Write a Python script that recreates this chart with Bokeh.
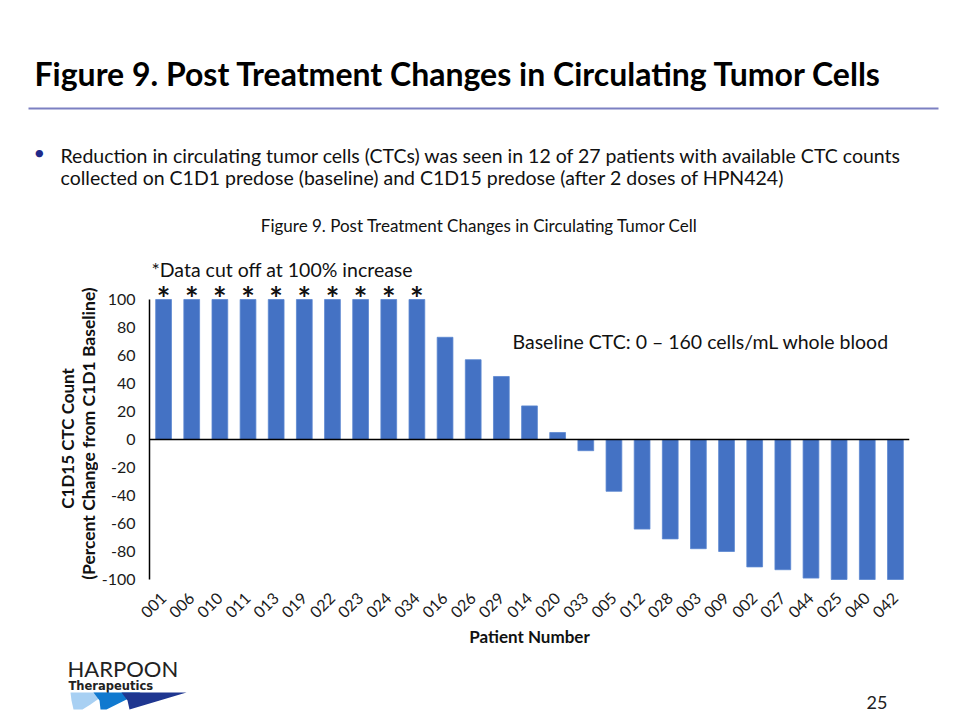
import math
from bokeh.plotting import figure
from bokeh.layouts import column, row
from bokeh.models import (Range1d, FactorRange, FixedTicker, Span, Label,
                          PolyAnnotation, ColumnDataSource)
from bokeh.core.properties import value
from bokeh.embed import file_html
from bokeh.resources import INLINE

# ---------------- data ----------------
patients = ["001", "006", "010", "011", "013", "019", "022", "023", "024", "034",
            "016", "026", "029", "014", "020", "033", "005", "012", "028", "003",
            "009", "002", "027", "044", "025", "040", "042"]
pct_change = [100, 100, 100, 100, 100, 100, 100, 100, 100, 100,
              73, 57, 45, 24, 5, -8, -37, -64, -71, -78,
              -80, -91, -93, -99, -100, -100, -100]
y_ticks = [-100, -80, -60, -40, -20, 0, 20, 40, 60, 80, 100]
cap_value = 100

title_text = "Figure 9. Post Treatment Changes in Circulating Tumor Cells"
bullet_lines = ["Reduction in circulating tumor cells (CTCs) was seen in 12 of 27 patients with available CTC counts",
                "collected on C1D1 predose (baseline) and C1D15 predose (after 2 doses of HPN424)"]
subtitle_text = "Figure 9. Post Treatment Changes in Circulating Tumor Cell"
cut_note = "*Data cut off at 100% increase"
baseline_note = "Baseline CTC: 0 \u2013 160 cells/mL whole blood"
y_label_lines = ["C1D15 CTC Count", "(Percent Change from C1D1 Baseline)"]
x_label = "Patient Number"
page_number = "25"

FONT = "Lato"
BAR = "#4472C4"
W = 950
TOP_H = 250      # header band: page y 0..250
MID_H = 405      # chart band: page y 250..655
BOT_H = 61       # footer band: page y 655..716
LEFT_W = 98      # y-label column inside the chart band
FR_L, FR_R, FR_T, FR_B = 148, 909, 256, 582   # chart frame on the page
ROT_SHIFT = 32   # compensation for rotated label anchoring


def blank(width, height, y0):
    """figure whose frame fills it, with page-pixel coordinates (y down)."""
    f = figure(width=width, height=height, output_backend="svg", toolbar_location=None,
               x_range=Range1d(0, width), y_range=Range1d(y0 + height, y0),
               x_axis_location=None, y_axis_location=None, min_border=0)
    f.outline_line_color = None
    f.xgrid.visible = False
    f.ygrid.visible = False
    f.border_fill_color = "white"
    return f


def lab(f, text, px, py, size, align="left", baseline="middle", bold=False,
        color="#111111", angle=0.0, font=FONT):
    f.add_layout(Label(x=px, y=py, text=text, text_font=font, text_font_size=size,
                       text_align=align, text_baseline=baseline,
                       text_font_style="bold" if bold else "normal",
                       text_color=color, angle=angle))


def poly(f, pts, color):
    f.add_layout(PolyAnnotation(xs=[x for x, _ in pts], ys=[y for _, y in pts],
                                fill_color=color, fill_alpha=1.0, line_color=None))


# ---------------- header ----------------
head = blank(W, TOP_H, 0)
lab(head, title_text, 34, 73, "32px", bold=True, color="#000000")
poly(head, [(28, 107), (938, 107), (938, 109), (28, 109)], "#7C80C2")
lab(head, "\u2022", 33, 151, "20px", color="#1F2A8A")
lab(head, bullet_lines[0], 60, 155, "19.5px")
lab(head, bullet_lines[1], 60, 177, "19.5px")
lab(head, subtitle_text, 479, 225, "17px", align="center")

# ---------------- y-label column ----------------
left = blank(LEFT_W, MID_H, TOP_H)
lab(left, y_label_lines[0], 67, 444 + ROT_SHIFT, "17px", align="center", bold=True,
    angle=math.pi / 2)
lab(left, y_label_lines[1], 88, 438 + ROT_SHIFT, "17.5px", align="center", bold=True,
    angle=math.pi / 2)

# ---------------- chart ----------------
p = figure(width=W - LEFT_W, height=MID_H, output_backend="svg", toolbar_location=None,
           x_range=FactorRange(*patients), y_range=Range1d(-102.14, 130.71),
           min_border_left=FR_L - LEFT_W, min_border_right=W - FR_R,
           min_border_top=FR_T - TOP_H, min_border_bottom=TOP_H + MID_H - FR_B)
p.outline_line_color = None
p.xgrid.grid_line_color = None
p.ygrid.grid_line_color = None
p.border_fill_color = "white"

src = ColumnDataSource(dict(x=patients, top=pct_change))
p.vbar(x="x", top="top", width=0.56, source=src, fill_color=BAR,
       line_color="#5B86D0", line_width=0.8)

p.add_layout(Span(location=0, dimension="width", line_color="#000000", line_width=1.5))

ya = p.yaxis[0]
ya.ticker = FixedTicker(ticks=y_ticks)
ya.major_label_overrides = {t: str(t) for t in y_ticks}
ya.bounds = (-100, 100)
ya.axis_line_color = "#000000"
ya.axis_line_width = 1.5
ya.major_tick_line_color = None
ya.minor_tick_line_color = None
ya.major_label_text_font = FONT
ya.major_label_text_font_size = "16px"
ya.major_label_text_color = "#1a1a1a"
ya.major_label_standoff = 8

xa = p.xaxis[0]
xa.axis_line_color = None
xa.major_tick_line_color = None
xa.minor_tick_line_color = None
xa.major_label_orientation = math.pi / 4
xa.major_label_text_font = FONT
xa.major_label_text_font_size = "16px"
xa.major_label_text_color = "#1a1a1a"
xa.major_label_standoff = 7
xa.axis_label = x_label
xa.axis_label_text_font = FONT
xa.axis_label_text_font_style = "bold"
xa.axis_label_text_font_size = "17px"
xa.axis_label_text_color = "#111111"
xa.axis_label_standoff = 0

capped = [pt for pt, v in zip(patients, pct_change) if v >= cap_value]
p.text(x=capped, y=[cap_value] * len(capped), text=["*"] * len(capped),
       text_font=value(FONT), text_font_size="32px", text_font_style="bold",
       text_align="center", text_baseline="alphabetic", y_offset=-1, text_color="#111111")


def flab(text, px, py, size):
    """label inside the chart frame, placed by page pixel (screen units from frame)."""
    p.add_layout(Label(x=px - FR_L, y=FR_B - py, x_units="screen", y_units="screen",
                       text=text, text_font=FONT, text_font_size=size,
                       text_baseline="middle", text_color="#111111"))


flab(cut_note, 150, 269, "19.5px")
flab(baseline_note, 511, 341, "19.5px")

# ---------------- footer ----------------
foot = blank(W, BOT_H, TOP_H + MID_H)
lab(foot, "HARPOON", 67, 668, "22px", color="#222222")
lab(foot, "Therapeutics", 68, 685, "11.5px", bold=True, color="#222222",
    font="DejaVu Sans")
poly(foot, [(70, 692), (107, 692), (90, 704), (82, 709), (73, 709), (71, 700)], "#A8D0F3")
poly(foot, [(93, 692), (140, 692), (114, 705), (106, 709), (100, 709), (99, 700)], "#1079CF")
poly(foot, [(121, 692), (186, 692), (129, 709), (127, 700)], "#1F3690")
lab(foot, page_number, 866, 702, "18px", color="#222222")

layout = column(head, row(left, p), foot)
open("out.html", "w").write(file_html(layout, INLINE))
